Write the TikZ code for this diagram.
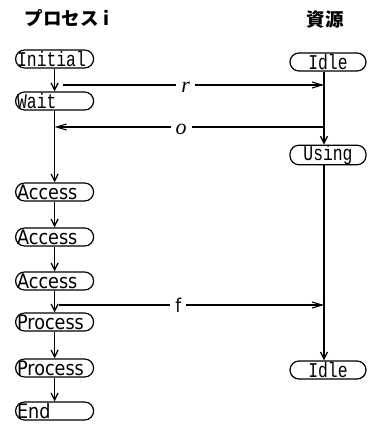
\documentclass[tikz,border=0pt]{standalone}
\usepackage{fontspec}
\usetikzlibrary{arrows.meta}
\newfontfamily\jpfont{Noto Sans CJK JP}
\newfontfamily\monofont[FakeStretch=0.78]{Liberation Mono}
\newfontfamily\propfont[FakeStretch=0.88]{DejaVu Sans}
\newfontfamily\lblfont{Liberation Serif}
\begin{document}
\begin{tikzpicture}[x=1pt,y=-1pt,
  pill/.style={draw, line width=1.2pt, rectangle, rounded corners=9pt,
    minimum height=18pt, inner ysep=0pt, inner xsep=1.5pt},
  mono/.style={font=\monofont\fontsize{21}{21}\selectfont},
  prop/.style={font=\propfont\fontsize{20}{20}\selectfont},
  lpill/.style={pill, text width=75pt, align=left, anchor=west},
  rpill/.style={pill, minimum width=76pt, mono},
  flow/.style={line width=1.3pt, -{Straight Barb[length=7pt,width=7pt]}},
  msg/.style={line width=1.1pt, -{Straight Barb[length=10pt,width=6pt]}},
  lab/.style={fill=white, inner xsep=5pt, inner ysep=1pt},
  title/.style={font=\jpfont\bfseries\fontsize{18.5}{18.5}\selectfont}
]
\useasboundingbox (0,0) rectangle (368,426);

% column headings
\node[title] (hp) at (67,18) {プロセス i};
\node[title] (hr) at (325,20) {資源};

% process states
\node[lpill, mono] (ini) at (15,59)  {Initial};
\node[lpill, mono] (wai) at (15,101) {Wait};
\node[lpill, prop] (ac1) at (15,192) {Access};
\node[lpill, prop] (ac2) at (15,237) {Access};
\node[lpill, prop] (ac3) at (15,281) {Access};
\node[lpill, prop] (pr1) at (15,322) {Process};
\node[lpill, prop] (pr2) at (15,368) {Process};
\node[lpill, prop] (end) at (15,411) {End};

% resource states
\node[rpill] (id1) at (328,62)  {Idle};
\node[rpill] (use) at (328,155) {Using};
\node[rpill] (id2) at (328,370) {Idle};

% process flow
\draw[flow] (ini) -- (wai);
\draw[flow] (wai) -- (ac1);
\draw[flow] (ac1) -- (ac2);
\draw[flow] (ac2) -- (ac3);
\draw[flow] (ac3) -- (pr1);
\draw[flow] (pr1) -- (pr2);
\draw[flow] (pr2) -- (end);

% resource flow (line runs a little left of the node centre)
\coordinate (r1) at ([xshift=-4pt]id1.south);
\coordinate (r2) at ([xshift=-4pt]use.north);
\coordinate (r3) at ([xshift=-4pt]use.south);
\coordinate (r4) at ([xshift=-4pt]id2.north);
\draw[flow] (r1) -- (r2);
\draw[flow] (r3) -- (r4);

% messages
\coordinate (rq) at (63,85);
\coordinate (ok) at (0,127);
\coordinate (fi) at (59,305);
\draw[msg] (rq) -- node[lab, pos=0.47, font=\lblfont\itshape\fontsize{22}{22}\selectfont, yshift=-2pt] {r} (rq -| r1);
\draw[msg] (ok -| r1) -- node[lab, pos=0.53, font=\lblfont\itshape\fontsize{22}{22}\selectfont, yshift=-2pt] {o} (ok -| wai.south);
\draw[msg] (fi) -- node[lab, pos=0.45, font=\propfont\fontsize{19}{19}\selectfont] {f} (fi -| r3);
\end{tikzpicture}
\end{document}
